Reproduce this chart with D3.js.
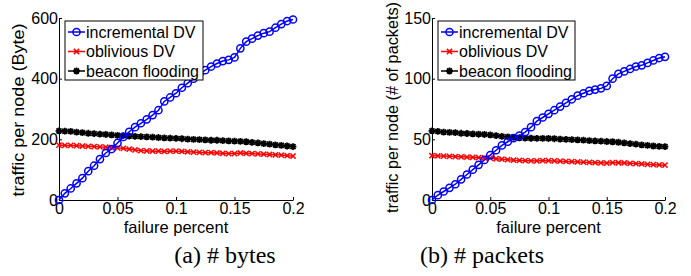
<!DOCTYPE html>
<html><head><meta charset="utf-8">
<script src="https://cdn.jsdelivr.net/npm/d3@7"></script>
<style>body{margin:0;background:#fff}svg{display:block}</style>
</head><body>
<svg id="c" width="691" height="276"></svg>
<script>
const failure = d3.range(41).map(i => +(i*0.005).toFixed(3));
const xTicks = [0, 0.05, 0.1, 0.15, 0.2];
const xTickLabels = ["0", "0.05", "0.1", "0.15", "0.2"];
const seriesNames = ["incremental DV", "oblivious DV", "beacon flooding"];

const bytesTicks = [0, 200, 400, 600];
const bytesIncremental = [0,22,38,55,72,95,113,135,155,168,188,208,225,240,253,266,280,296,325,338,352,370,385,400,415,428,440,450,458,462,470,500,522,532,542,550,555,568,580,590,595];
const bytesOblivious = [181,180,180,179,178,177,176,175,174,173,172,170,168,165,163,162,161,161,160,161,161,160,159,158,157,156,156,155,154,153,153,155,154,153,152,151,150,149,148,146,145];
const bytesBeacon = [228,227,226,224,222,220,219,217,216,215,213,212,211,210,209,208,207,206,205,204,203,202,201,200,199,198,197,197,196,195,194,193,192,190,188,186,184,182,180,178,176];

const pktTicks = [0, 50, 100, 150];
const pktIncremental = [0,4,7,10,13,17,21,25,29,33,37,41,45,48,51,53,56,60,65,68,71,74,77,80,83,86,88,90,91,92,94,100,104,106,108,110,111,113,115,117,118];
const pktOblivious = [36.5,36.3,36.2,36,35.8,35.6,35.4,35.2,35,34.8,34.5,34,33.6,33.2,32.8,32.6,32.4,32.3,32.2,32.5,32.4,32.2,32,31.8,31.6,31.4,31.2,31,30.8,30.6,30.4,30.8,30.7,30.5,30.2,30,29.7,29.4,29.1,28.9,28.7];
const pktBeacon = [57,56.5,56,55.8,55.5,55,54.8,54.5,54.2,54,53.6,53,52.5,52,51.6,51.3,51,50.9,50.8,50.8,50.7,50.5,50.2,50,49.8,49.5,49.3,49,48.8,48.5,48.2,48,47.6,47,46.5,46,45.5,45,44.5,44.2,44];

const colors = ["#0000ff", "#ff0000", "#000000"];
const markers = ["circle", "x", "star"];
const svg = d3.select("#c");
const FONT = "Liberation Sans, Arial, sans-serif";

function drawMarker(g, type, x, y, color) {
  if (type === "circle") {
    g.append("circle").attr("cx", x).attr("cy", y).attr("r", 3.6)
      .attr("fill", "none").attr("stroke", color).attr("stroke-width", 1.5);
  } else if (type === "x") {
    const s = 2.6;
    g.append("path").attr("d", `M${x-s},${y-s}L${x+s},${y+s}M${x-s},${y+s}L${x+s},${y-s}`)
      .attr("stroke", color).attr("stroke-width", 1.5);
  } else {
    const s = 3.4, d = 2.5;
    g.append("path").attr("d", `M${x-s},${y}L${x+s},${y}M${x},${y-s}L${x},${y+s}M${x-d},${y-d}L${x+d},${y+d}M${x-d},${y+d}L${x+d},${y-d}`)
      .attr("stroke", color).attr("stroke-width", 1.8);
  }
}

function panel(opt) {
  const g = svg.append("g");
  const x = d3.scaleLinear().domain([0, 0.2]).range([opt.x0, opt.x1]);
  const y = d3.scaleLinear().domain([0, opt.ymax]).range([200, 18]);

  const xa = g.append("g").attr("transform", "translate(0,200)")
    .call(d3.axisBottom(x).tickValues(xTicks).tickFormat((d, i) => xTickLabels[i]).tickSizeInner(-3).tickSizeOuter(0).tickPadding(5));
  const ya = g.append("g").attr("transform", `translate(${opt.x0},0)`)
    .call(d3.axisLeft(y).tickValues(opt.ticks).tickSizeInner(-3).tickSizeOuter(0).tickPadding(1));
  [xa, ya].forEach(a => {
    a.select(".domain").attr("stroke", "#000").attr("stroke-width", 1);
    a.selectAll(".tick line").attr("stroke", "#000");
    a.selectAll("text").attr("font-family", FONT).attr("font-size", 16).attr("fill", "#000");
  });
  xa.selectAll("text").attr("dy", "0.55em");

  const series = [opt.inc, opt.obl, opt.bea];
  [2, 1, 0].forEach(k => {
    const data = series[k];
    const line = d3.line().x((d, i) => x(failure[i])).y(d => y(d));
    g.append("path").datum(data).attr("d", line).attr("fill", "none")
      .attr("stroke", colors[k]).attr("stroke-width", 1.5);
    const mg = g.append("g");
    data.forEach((d, i) => drawMarker(mg, markers[k], x(failure[i]), y(d), colors[k]));
  });

  g.append("text").attr("x", (opt.x0 + opt.x1) / 2).attr("y", 233).attr("text-anchor", "middle")
    .attr("font-family", FONT).attr("font-size", 16.5).text("failure percent");
  g.append("text").attr("transform", `translate(${opt.ylabX},${opt.ylabY}) rotate(-90)`).attr("text-anchor", "middle")
    .attr("font-family", FONT).attr("font-size", 16).attr("textLength", opt.ylabLen)
    .attr("lengthAdjust", "spacingAndGlyphs").text(opt.ylabel);

  const lg = g.append("g");
  lg.append("rect").attr("x", opt.lx).attr("y", 21).attr("width", opt.lw).attr("height", 59)
    .attr("fill", "#fff").attr("stroke", "#000").attr("stroke-width", 1);
  seriesNames.forEach((n, k) => {
    const cy = 32 + k * 19.5;
    lg.append("line").attr("x1", opt.lx + 3).attr("x2", opt.lx + 20).attr("y1", cy).attr("y2", cy)
      .attr("stroke", colors[k]).attr("stroke-width", 1.5);
    drawMarker(lg, markers[k], opt.lx + 11.5, cy, colors[k]);
    lg.append("text").attr("x", opt.lx + 21).attr("y", cy + 5.5).attr("font-family", FONT)
      .attr("font-size", 16).text(n);
  });

  svg.append("text").attr("x", opt.capX).attr("y", 263).attr("text-anchor", "middle")
    .attr("font-family", "Liberation Serif, Times New Roman, serif").attr("font-size", 24).text(opt.caption);
}

panel({x0: 59, x1: 293, ymax: 600, ticks: bytesTicks, inc: bytesIncremental, obl: bytesOblivious, bea: bytesBeacon,
  ylabel: "traffic per node (Byte)", ylabX: 24, ylabY: 110, ylabLen: 173, lx: 65, lw: 138, caption: "(a) # bytes", capX: 225});
panel({x0: 432, x1: 665, ymax: 150, ticks: pktTicks, inc: pktIncremental, obl: pktOblivious, bea: pktBeacon,
  ylabel: "traffic per node (# of packets)", ylabX: 398, ylabY: 107.5, ylabLen: 211, lx: 438, lw: 137, caption: "(b) # packets", capX: 482});
</script>
</body></html>
